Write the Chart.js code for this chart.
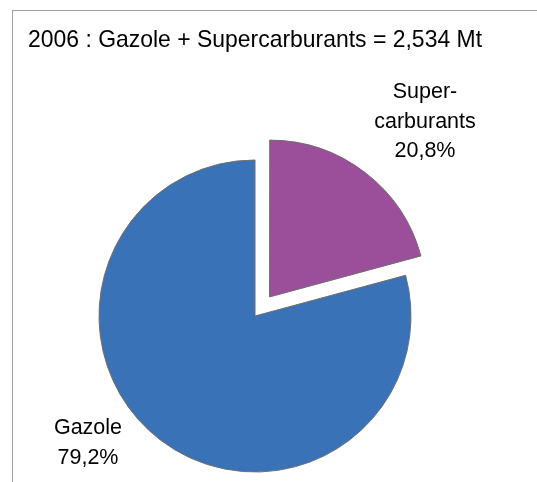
<!DOCTYPE html>
<html>
<head>
<meta charset="utf-8">
<script src="https://cdn.jsdelivr.net/npm/chart.js@4.4.1/dist/chart.umd.min.js"></script>
<style>
  html, body { margin: 0; padding: 0; background: #fff; }
  #wrap { position: relative; width: 537px; height: 482px; }
  #frame {
    position: absolute; left: 12px; top: 10px; right: -2px; bottom: -2px;
    border-left: 1px solid #a0a0a0; border-top: 1px solid #a0a0a0;
  }
  canvas { position: absolute; left: 0; top: 0; }
</style>
</head>
<body>
<div id="wrap">
  <div id="frame"></div>
  <canvas id="pie" width="537" height="482"></canvas>
</div>
<script>
// ─── Data ─────────────────────────────────────────────────────────────────────
const titleText  = '2006 : Gazole + Supercarburants = 2,534 Mt';
const categories = ['Super-\ncarburants', 'Gazole'];
const shares     = [20.8, 79.2];
const colors     = ['#9b4f9b', '#3a72b8'];

const FONT = '"Liberation Sans", Arial, sans-serif';

// Label text offsets from the pie centre (Excel "best fit" placement)
const LABEL_SHIFT = [[170, -194], [-167, 127]];

// ─── Slice labels plugin ──────────────────────────────────────────────────────
const sliceLabels = {
  id: 'sliceLabels',
  afterDatasetsDraw(chart) {
    const { ctx } = chart;
    const meta = chart.getDatasetMeta(0);
    ctx.save();
    ctx.font = `21.5px ${FONT}`;
    ctx.fillStyle = '#000';
    ctx.textAlign = 'center';
    ctx.textBaseline = 'middle';
    meta.data.forEach((arc, i) => {
      const lines = categories[i].split('\n');
      lines.push(shares[i].toFixed(1).replace('.', ',') + '%');
      const cx = arc.x + LABEL_SHIFT[i][0];
      const cy = arc.y + LABEL_SHIFT[i][1];
      const lh = 29.5;
      const top = cy - (lines.length - 1) * lh / 2;
      lines.forEach((t, k) => ctx.fillText(t, cx, top + k * lh));
    });
    ctx.restore();
  },
};

new Chart(document.getElementById('pie'), {
  type: 'pie',
  data: {
    labels: categories,
    datasets: [{
      data:            shares,
      backgroundColor: colors,
      borderColor:     '#6e6e6e',
      borderWidth:     1,
      offset:          [96, 0],   // arc translates by offset / 4
    }],
  },
  options: {
    responsive: false,
    animation:  false,
    radius:     156,
    layout: { padding: { left: 28, right: 55, top: 0, bottom: 0 } },
    plugins: {
      legend:  { display: false },
      tooltip: { enabled: false },
      title: {
        display: true,
        text:    titleText,
        align:   'start',
        color:   '#000',
        font:    { family: FONT, size: 24, weight: 'normal', lineHeight: 1.2 },
        padding: { top: 25.6, bottom: 95.6 },
      },
    },
  },
  plugins: [sliceLabels],
});
</script>
</body>
</html>
